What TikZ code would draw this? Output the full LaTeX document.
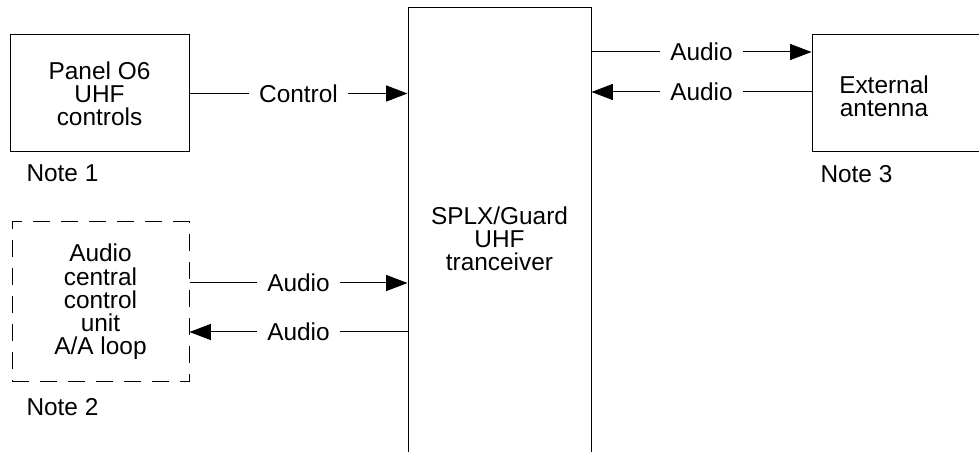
\documentclass[tikz,border=0pt]{standalone}
\usepackage{fontspec}
\setmainfont{Liberation Sans}
\usetikzlibrary{arrows.meta,calc}
\begin{document}
\begin{tikzpicture}[x=0.75pt,y=-0.75pt, line width=0.75pt,
  font=\fontsize{18.3}{17.4}\selectfont,
  box/.style={draw, rectangle, inner sep=0pt, align=center},
  txt/.style={align=center, inner sep=0pt},
  note/.style={anchor=west, inner sep=0pt},
  lbl/.style={fill=white, inner xsep=7.5pt, inner ysep=2pt},
  arr/.style={-{Triangle[length=16pt,width=12pt]}}]
\useasboundingbox (0,0) rectangle (979,452);
\clip (0,0) rectangle (979,452);
\node[box, minimum width=134.25pt, minimum height=87.75pt] (panel) at (99.5,93.5) {Panel O6\\UHF\\controls};
\node[box, dash pattern=on 13pt off 8pt, minimum width=132.75pt, minimum height=120pt] (acu) at (100.5,302) {Audio\\central\\control\\unit\\A/A loop};
\node[box, minimum width=137.25pt, minimum height=346.5pt] (xcvr) at (499.5,239) {SPLX/Guard\\UHF\\tranceiver};
\node[box, minimum width=141pt, minimum height=87.75pt] (ant) at (906,93.5) {};
\node[txt] (antlbl) at (884,96) {External\\antenna};
\node[note] (n1) at (26,173) {Note 1};
\node[note] (n2) at (26,407) {Note 2};
\node[note] (n3) at (820,174) {Note 3};
\coordinate (ra) at (0,283);
\coordinate (rb) at (0,332);
\coordinate (rc) at (0,52);
\coordinate (rd) at (0,92);
\draw[arr] (panel.east) -- (panel.east -| xcvr.west) node[midway, lbl] {Control};
\draw[arr] (acu.east |- ra) -- (xcvr.west |- ra) node[midway, lbl] {Audio};
\draw[arr] (xcvr.west |- rb) -- (acu.east |- rb) node[midway, lbl] {Audio};
\draw[arr] (xcvr.east |- rc) -- (ant.west |- rc) node[midway, lbl] {Audio};
\draw[arr] (ant.west |- rd) -- (xcvr.east |- rd) node[midway, lbl] {Audio};
\end{tikzpicture}
\end{document}
